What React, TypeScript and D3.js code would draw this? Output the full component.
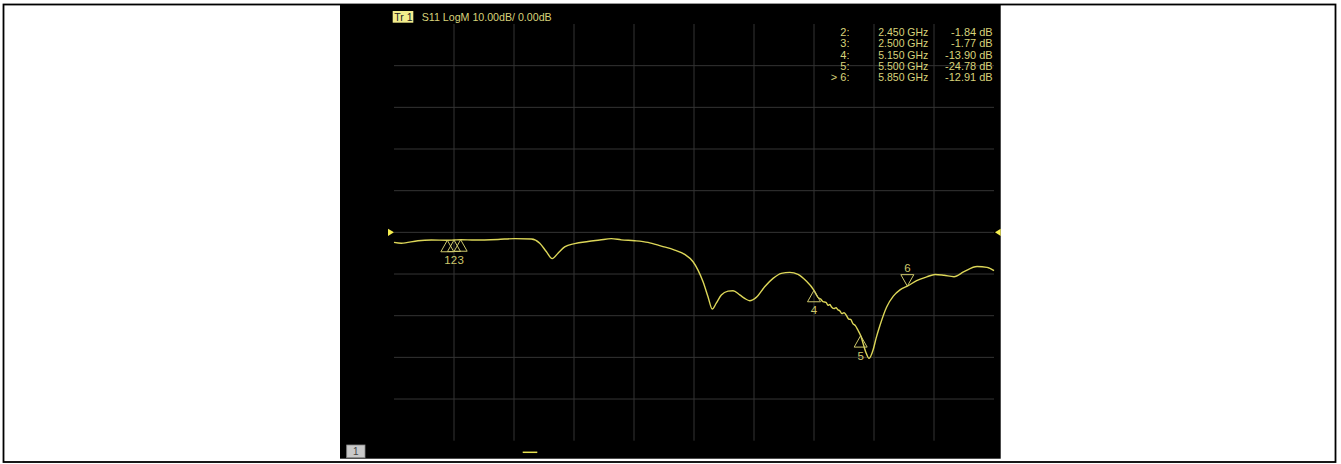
import React from "react";
import * as d3 from "d3";

// Trace: S11 magnitude (dB) vs frequency (GHz)
const traceFreq = [
  2.0, 2.055, 2.18, 2.28, 2.4, 2.45, 2.5, 2.605, 2.78, 2.905, 3.03, 3.093, 3.142, 3.187,
  3.23, 3.28, 3.355, 3.455, 3.543, 3.63, 3.705, 3.805, 3.905, 4.005, 4.105, 4.18, 4.243,
  4.28, 4.318, 4.355, 4.387, 4.417, 4.455, 4.505, 4.543, 4.593, 4.63, 4.668, 4.717, 4.78,
  4.843, 4.905, 4.968, 5.03, 5.092, 5.15, 5.18, 5.2, 5.218, 5.24, 5.255, 5.27, 5.28, 5.3,
  5.315, 5.33, 5.343, 5.36, 5.375, 5.392, 5.41, 5.425, 5.442, 5.46, 5.48, 5.5, 5.538,
  5.563, 5.593, 5.615, 5.645, 5.695, 5.745, 5.795, 5.85, 5.92, 5.995, 6.058, 6.125, 6.2,
  6.275, 6.373, 6.448, 6.5,
];
const traceDb = [
  -2.4, -2.6, -2.0, -1.85, -1.9, -1.84, -1.77, -1.85, -1.7, -1.5, -1.6, -2.6, -4.6, -6.3,
  -5.0, -3.5, -2.7, -2.2, -1.85, -1.5, -1.8, -2.0, -2.4, -3.3, -4.25, -5.3, -7.05,
  -9.05, -11.85, -15.45, -18.4, -17.0, -15.05, -14.1, -14.0, -15.0, -15.85, -16.4, -15.6, -13.05,
  -11.05, -9.85, -9.6, -10.1, -11.7, -13.9, -15.6, -16.0, -16.65, -16.8, -17.5, -17.3, -17.85, -18.3,
  -18.1, -18.6, -18.8, -19.5, -19.3, -19.9, -20.8, -20.9, -21.9, -22.4, -23.5, -24.78, -28.7,
  -30.25, -28.25, -25.5, -22.3, -17.9, -15.3, -13.8, -12.91, -11.6, -10.7, -10.1, -10.3, -10.65,
  -9.45, -8.2, -8.4, -9.2,
];

// Markers
const markerIds = ["1", "2", "3", "4", "5", "6"];
const markerFreq = [2.4, 2.45, 2.5, 5.15, 5.5, 5.85];
const markerDb = [-1.9, -1.84, -1.77, -13.9, -24.78, -12.91];
const markerDown = [false, false, false, false, false, true];

// Marker readout table (markers 2..6)
const tableIds = ["2:", "3:", "4:", "5:", "> 6:"];
const tableFreq = ["2.450 GHz", "2.500 GHz", "5.150 GHz", "5.500 GHz", "5.850 GHz"];
const tableVal = ["-1.84 dB", "-1.77 dB", "-13.90 dB", "-24.78 dB", "-12.91 dB"];

// Grid
const gridFreq = [2.45, 2.9, 3.35, 3.8, 4.25, 4.7, 5.15, 5.6, 6.05];
const gridDb = [40, 30, 20, 10, 0, -10, -20, -30, -40];

const headerText = "S11 LogM 10.00dB/ 0.00dB";

const W = 1341;
const H = 464;
const FONT = "'Liberation Sans', Arial, sans-serif";

export default function App() {
  const x = d3.scaleLinear().domain([2.0, 6.5]).range([394, 994]);
  const y = d3.scaleLinear().domain([50, -50]).range([24, 440.7]);

  const pts: [number, number][] = traceFreq.map((f, i) => [f, traceDb[i]]);
  const line = d3
    .line<[number, number]>()
    .x((d) => x(d[0]))
    .y((d) => y(d[1]))
    .curve(d3.curveMonotoneX);

  const traceColor = "#dcd658";
  const mColor = "#cdc86c";
  const txtColor = "#d8d37a";
  const gridColor = "#343434";

  return (
    <svg
      width={W}
      height={H}
      style={{ position: "absolute", left: 0, top: 0, background: "#fff" }}
    >
      <rect x={3.5} y={4.5} width={1332} height={457.5} fill="#fff" stroke="#000" strokeWidth={1.8} />
      <rect x={340} y={4} width={660.7} height={454.7} fill="#000" />

      {gridFreq.map((f, i) => (
        <line key={"v" + i} x1={x(f)} x2={x(f)} y1={y(50)} y2={y(-50)} stroke={gridColor} strokeWidth={1} />
      ))}
      {gridDb.map((v, i) => (
        <line key={"h" + i} x1={x(2.0)} x2={x(6.5)} y1={y(v)} y2={y(v)} stroke={gridColor} strokeWidth={1} />
      ))}

      {/* header */}
      <rect x={392.7} y={11} width={20.6} height={11.7} fill="#f3ed8c" />
      <text x={394.2} y={20.6} fontFamily={FONT} fontSize={10.5} fill="#222">Tr 1</text>
      <text x={421.7} y={20.8} fontFamily={FONT} fontSize={11.5} fill={txtColor} textLength={130} lengthAdjust="spacingAndGlyphs">
        {headerText}
      </text>

      {/* marker table */}
      {tableIds.map((t, i) => {
        const yy = 36.3 + i * 11.1;
        return (
          <g key={"t" + i} fontFamily={FONT} fontSize={11} fill={txtColor}>
            <text x={849.5} y={yy} textAnchor="end">{t}</text>
            <text x={878.3} y={yy} textLength={50} lengthAdjust="spacingAndGlyphs">{tableFreq[i]}</text>
            <text x={992.7} y={yy} textAnchor="end">{tableVal[i]}</text>
          </g>
        );
      })}

      {/* reference position arrows */}
      <path d={`M388,${y(0) - 3.6} L394,${y(0)} L388,${y(0) + 3.6} Z`} fill="#f5ee50" />
      <path d={`M1000.7,${y(0) - 3.6} L995,${y(0)} L1000.7,${y(0) + 3.6} Z`} fill="#f5ee50" />

      {/* trace */}
      <path d={line(pts) || ""} fill="none" stroke={traceColor} strokeWidth={1.4} />

      {/* markers */}
      {markerIds.map((id, i) => {
        const mx = x(markerFreq[i]);
        const my = y(markerDb[i]);
        const down = markerDown[i];
        const h = 11.5;
        const hw = 6.5;
        const d = down
          ? `M${mx},${my} L${mx - hw},${my - h} L${mx + hw},${my - h} Z`
          : `M${mx},${my} L${mx - hw},${my + h} L${mx + hw},${my + h} Z`;
        return (
          <g key={"m" + i}>
            <path d={d} fill="none" stroke={mColor} strokeWidth={1} />
            <text
              x={mx}
              y={down ? my - 14 : my + 24}
              textAnchor="middle"
              fontFamily={FONT}
              fontSize={11.5}
              fill={mColor}
            >
              {id}
            </text>
          </g>
        );
      })}

      {/* bottom status */}
      <rect x={346.7} y={445} width={18.3} height={12.7} fill="#c9c9c9" stroke="#888" strokeWidth={0.8} />
      <text x={355.8} y={455} textAnchor="middle" fontFamily={FONT} fontSize={10} fill="#444">1</text>
      <line x1={522.7} x2={537.3} y1={452.3} y2={452.3} stroke="#e8e250" strokeWidth={1.5} />
    </svg>
  );
}
